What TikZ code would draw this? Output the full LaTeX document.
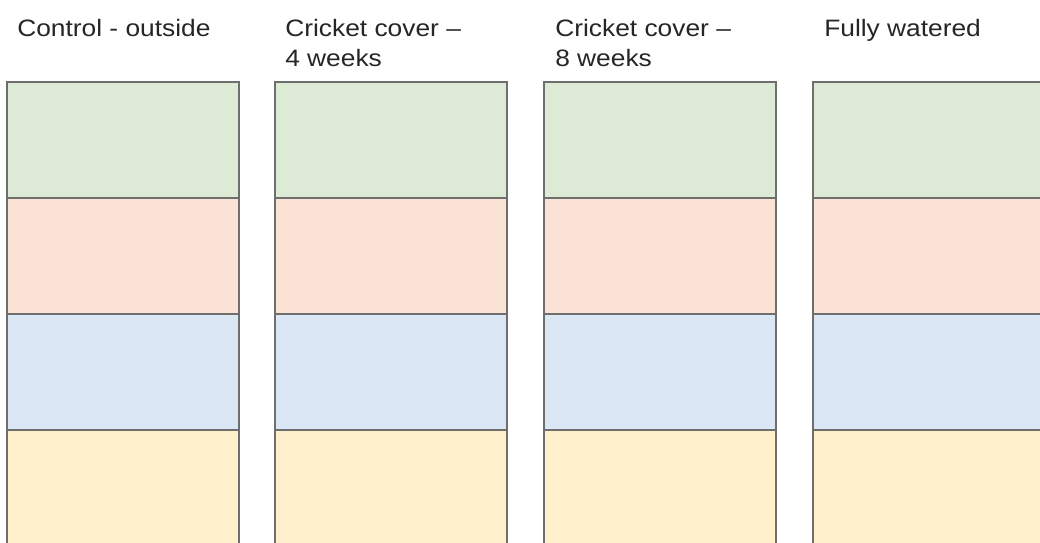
\documentclass[tikz,border=0pt]{standalone}
\usepackage{fontspec}
\setmainfont{Liberation Sans}[FakeStretch=1.11]
\definecolor{cgreen}{HTML}{DDEBD6}
\definecolor{corange}{HTML}{FAE2D5}
\definecolor{cblue}{HTML}{DCE7F5}
\definecolor{cyellow}{HTML}{FFF0CB}
\definecolor{cline}{HTML}{6E6E6E}
\tikzset{
  cell/.style={draw=cline, line width=1.5pt, inner sep=0pt, outer sep=0pt},
  head/.style={anchor=base west, inner sep=0pt, font=\fontsize{17.8}{22}\selectfont, text=black!85, align=left}
}
\begin{document}
\begin{tikzpicture}[x=0.75pt,y=-0.75pt]
\useasboundingbox (0,0) rectangle (1040,543);
\clip (0,0) rectangle (1040,543);
\fill[white] (0,0) rectangle (1040,543);
\foreach \i/\x in {1/7,2/275,3/544,4/813}{
  \filldraw[cell, fill=cgreen]  (\x,82)  rectangle +(232,116) node[coordinate] (g\i) {};
  \filldraw[cell, fill=corange] (\x,198) rectangle +(232,116) node[coordinate] (o\i) {};
  \filldraw[cell, fill=cblue]   (\x,314) rectangle +(232,116) node[coordinate] (b\i) {};
  \filldraw[cell, fill=cyellow] (\x,430) rectangle +(232,130) node[coordinate] (y\i) {};
}
\node[head] (t1) at (17,36) {Control - outside};
\node[head] (t2) at (285,36) {Cricket cover --};
\node[head] (t2b) at (285,66) {4 weeks};
\node[head] (t3) at (555,36) {Cricket cover --};
\node[head] (t3b) at (555,66) {8 weeks};
\node[head] (t4) at (824,36) {Fully watered};
\end{tikzpicture}
\end{document}
